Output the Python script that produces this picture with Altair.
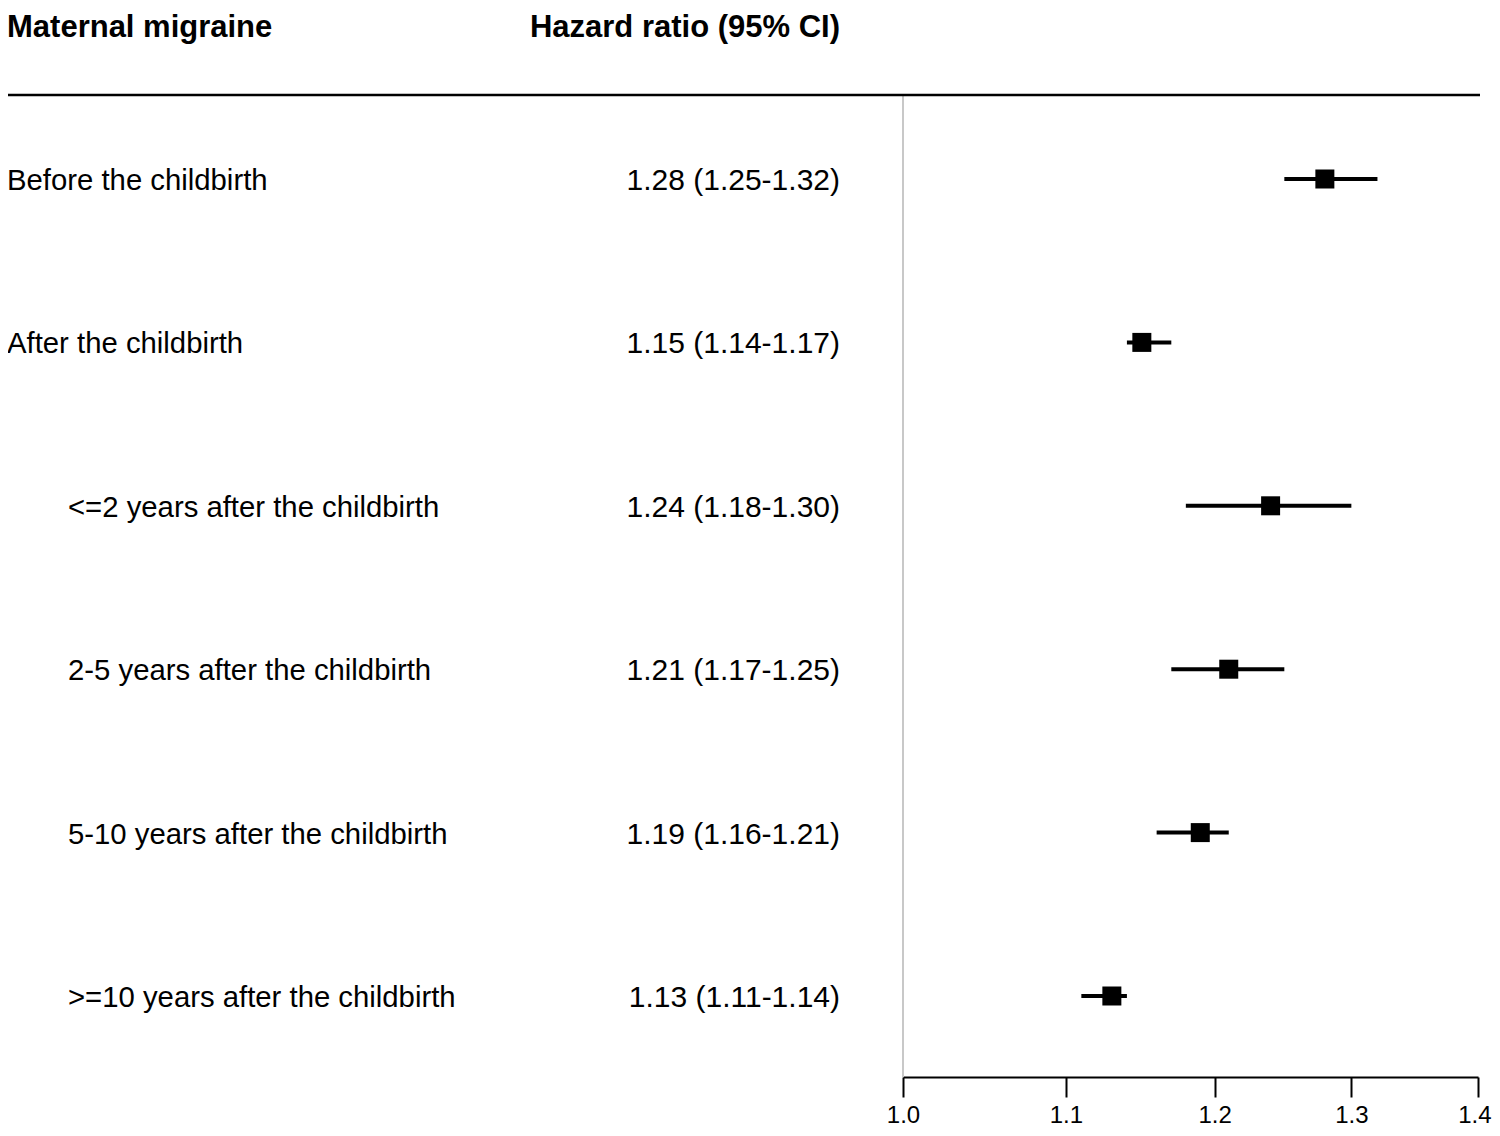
import altair as alt
import pandas as pd

labels = [
    "Before the childbirth",
    "After the childbirth",
    "<=2 years after the childbirth",
    "2-5 years after the childbirth",
    "5-10 years after the childbirth",
    ">=10 years after the childbirth",
]
levels = [0, 0, 1, 1, 1, 1]
hr = [1.28, 1.15, 1.24, 1.21, 1.19, 1.13]
lo = [1.25, 1.14, 1.18, 1.17, 1.16, 1.11]
hi = [1.32, 1.17, 1.30, 1.25, 1.21, 1.14]
tick_values = [1.0, 1.1, 1.2, 1.3, 1.4]
headers = ["Maternal migraine", "Hazard ratio (95% CI)"]

df = pd.DataFrame({"label": labels, "level": levels, "hr": hr, "lo": lo, "hi": hi})
df["text"] = [f"{h:.2f} ({l:.2f}-{u:.2f})" for h, l, u in zip(hr, lo, hi)]

FONT = "Liberation Sans"
PAD_TOP = 0
ORIGIN_Y = 8 + PAD_TOP
ORIGIN_X = 8


def ry(page_y):
    return page_y - ORIGIN_Y


def rx(page_x):
    return page_x - ORIGIN_X


W = rx(1480)
H = ry(1077)
PAD_BOTTOM = 1120 - PAD_TOP - H
PAD_RIGHT = 1500 - 16 - W

xscale = alt.Scale(type="log", domain=[1.0, 1.4], range=[rx(903), rx(1478)], nice=False, zero=False)
yscale = alt.Scale(type="point", domain=labels, range=[ry(179), ry(996)], padding=0)

base = alt.Chart(df)

xaxis = alt.Axis(
    values=tick_values, format=".1f", title=None, grid=False,
    domainColor="black", domainWidth=2, tickColor="black", tickWidth=2, tickSize=20,
    labelFont=FONT, labelFontSize=24, labelColor="black", labelPadding=6,
    labelFlush=False, labelOverlap=False,
    labelAlign={"expr": "datum.value >= 1.39 ? 'right' : 'center'"},
    labelOffset={"expr": "datum.value >= 1.39 ? 13 : 0"},
)

ci = base.mark_rule(color="black", strokeWidth=4).encode(
    x=alt.X("lo:Q", scale=xscale, axis=xaxis),
    x2="hi:Q",
    y=alt.Y("label:N", scale=yscale, axis=None),
)

pts = base.mark_square(size=361, color="black", opacity=1, filled=True).encode(
    x=alt.X("hr:Q", scale=xscale),
    y=alt.Y("label:N", scale=yscale),
)

ref = alt.Chart(pd.DataFrame({"v": [1.0]})).mark_rule(color="#c8c8c8", strokeWidth=2).encode(
    x=alt.X("v:Q", scale=xscale),
    y=alt.value(ry(95)),
    y2=alt.value(H),
)

hline = alt.Chart(pd.DataFrame({"a": [0]})).mark_rule(color="black", strokeWidth=2.5).encode(
    x=alt.value(rx(7)),
    x2=alt.value(W),
    y=alt.value(ry(95)),
)

main_text = base.transform_filter("datum.level == 0").mark_text(
    align="left", baseline="middle", font=FONT, fontSize=29.3, color="black", dy=2
).encode(x=alt.value(rx(7)), y=alt.Y("label:N", scale=yscale), text="label:N")

sub_text = base.transform_filter("datum.level == 1").mark_text(
    align="left", baseline="middle", font=FONT, fontSize=29.3, color="black", dy=2
).encode(x=alt.value(rx(68)), y=alt.Y("label:N", scale=yscale), text="label:N")

hr_text = base.mark_text(
    align="right", baseline="middle", font=FONT, fontSize=30, color="black", dy=2
).encode(x=alt.value(rx(840)), y=alt.Y("label:N", scale=yscale), text="text:N")

hdr = pd.DataFrame({"t": headers})
hdr1 = alt.Chart(hdr).transform_filter(alt.datum.t == headers[0]).mark_text(
    align="left", baseline="alphabetic", font=FONT, fontSize=31, fontWeight="bold", color="black"
).encode(x=alt.value(rx(7)), y=alt.value(ry(37)), text="t:N")
hdr2 = alt.Chart(hdr).transform_filter(alt.datum.t == headers[1]).mark_text(
    align="right", baseline="alphabetic", font=FONT, fontSize=31, fontWeight="bold", color="black"
).encode(x=alt.value(rx(840)), y=alt.value(ry(37)), text="t:N")

chart = alt.layer(ref, hline, ci, pts, main_text, sub_text, hr_text, hdr1, hdr2).properties(
    width=W, height=H,
    autosize=alt.AutoSizeParams(type="none"),
    padding={"left": 0, "top": PAD_TOP, "right": PAD_RIGHT, "bottom": PAD_BOTTOM},
    background="white",
).configure_view(stroke=None)

chart.save("out.html", embed_options={"renderer": "svg", "actions": False})
